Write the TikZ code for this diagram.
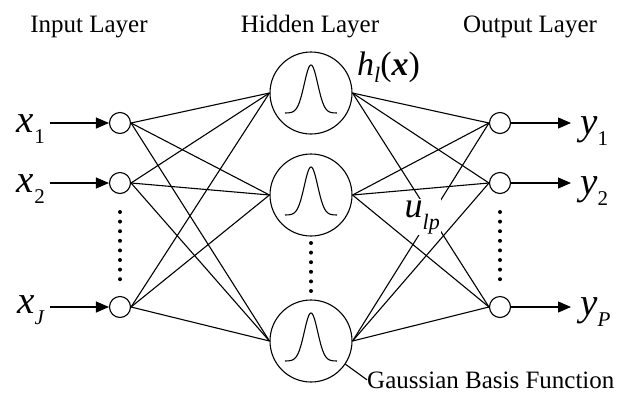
\documentclass[tikz,border=0pt]{standalone}
\usepackage{fontspec}
\setmainfont{Liberation Serif}
\usetikzlibrary{arrows.meta}

\newcommand{\sublbl}[2]{\textit{#1}\raisebox{-11pt}{\fontsize{21}{24}\selectfont #2}}

\tikzset{
  unit/.style={circle, draw, line width=1.1pt, minimum size=21pt, inner sep=0pt},
  rbf/.style={circle, draw, line width=1.1pt, minimum size=82pt, inner sep=0pt},
  link/.style={line width=1.1pt},
  feed/.style={line width=1.1pt, -{Triangle[length=13pt,width=11pt]}},
  lbl/.style={font=\fontsize{39}{40}\selectfont, inner ysep=0pt},
  title/.style={font=\fontsize{25}{28}\selectfont, anchor=base, inner sep=0pt}
}

\begin{document}
\begin{tikzpicture}[x=1pt,y=-1pt]
\def\xin{120}
\def\xhd{311}
\def\xout{500}
\useasboundingbox (0,0) rectangle (619,392);

\node[title] (tin) at (89,32) {Input Layer};
\node[title] (thd) at (310,32) {Hidden Layer};
\node[title] (tout) at (530,32) {Output Layer};

\foreach \i/\y in {1/123,2/183,3/307} {
  \node[unit] (in\i) at (\xin,\y) {};
  \node[unit] (out\i) at (\xout,\y) {};
}
\foreach \j/\y in {1/93,2/195,3/341} {
  \node[rbf] (hd\j) at (\xhd,\y) {};
  \draw[link, shift={(hd\j.center)}]
    plot[domain=-26:26, samples=61, smooth] ({\x}, {20-48*exp(-(\x*\x)/90)});
}

% connections
\foreach \i in {1,2,3} {
  \foreach \j in {1,2,3} {
    \draw[link] (in\i.east) -- (hd\j.west);
    \draw[link] (hd\j.east) -- (out\i.west);
  }
}

% inputs and outputs
\foreach \i/\s/\y in {1/1/132, 2/2/192, 3/\textit{J}/313} {
  \node[lbl, inner xsep=5pt, anchor=base east] (lx\i) at (50,\y) {\sublbl{x}{\s}};
  \draw[feed] (lx\i.east |- in\i.west) -- (in\i.west);
}
\foreach \i/\s/\y in {1/1/134, 2/2/194, 3/\textit{P}/315} {
  \node[lbl, inner xsep=9pt, anchor=base west] (ly\i) at (571,\y) {\sublbl{y}{\s}};
  \draw[feed] (out\i.east) -- (ly\i.west |- out\i.east);
}

% dots
\foreach \k in {0,...,7} {
  \fill (\xin,{212+\k*9.6}) circle (2);
  \fill (\xout,{212+\k*9.6}) circle (2);
}
\foreach \k in {0,...,5} {
  \fill (\xhd,{243+\k*9.6}) circle (2);
}

\node[anchor=base west, inner sep=0pt, font=\fontsize{34}{36}\selectfont] (hlx) at (357,75)
  {\textit{h}\raisebox{-7pt}{\fontsize{22}{24}\selectfont\textit{l}}(\textbf{\textit{x}})};
\node[anchor=base west, inner sep=1.5pt, fill=white, font=\fontsize{36}{38}\selectfont] (ulp) at (403,217)
  {\textit{u}\raisebox{-12pt}{\fontsize{22}{24}\selectfont\textit{lp}}};

\node[title, anchor=base west] (gbf) at (367,388) {Gaussian Basis Function};
\draw[link] (hd3.-34) -- (gbf.west);
\end{tikzpicture}
\end{document}
